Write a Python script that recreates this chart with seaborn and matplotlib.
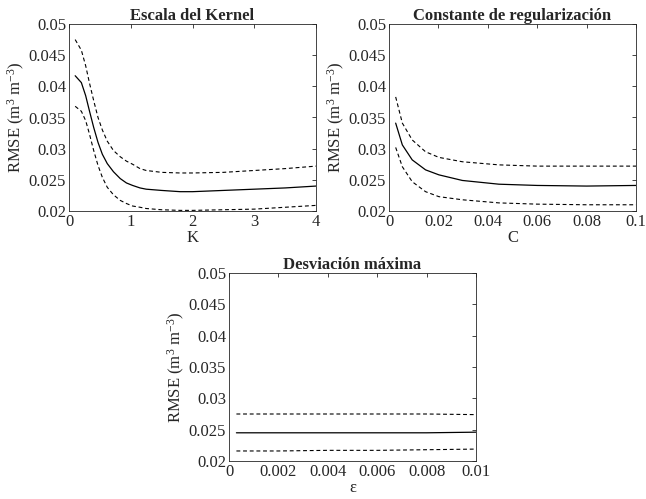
import numpy as np
import pandas as pd
import matplotlib
matplotlib.use("Agg")
import matplotlib.pyplot as plt
from matplotlib.ticker import FuncFormatter
import seaborn as sns

sns.set_style("white")
plt.rcParams["font.family"] = ["Liberation Serif", "DejaVu Serif"]
plt.rcParams["mathtext.fontset"] = "custom"
plt.rcParams["mathtext.rm"] = "Liberation Serif"
plt.rcParams["mathtext.it"] = "Liberation Serif:italic"

# Kernel scale K
k_vals = [0.1, 0.2, 0.27, 0.33, 0.4, 0.47, 0.54, 0.62, 0.72, 0.83, 0.93, 1.03, 1.15,
          1.25, 1.5, 1.8, 2.0, 2.5, 3.0, 3.5, 4.0]
k_mean = [0.0417, 0.0406, 0.0385, 0.0361, 0.0334, 0.0310, 0.0291, 0.0276, 0.0263, 0.0252,
          0.0245, 0.0241, 0.0237, 0.0235, 0.0233, 0.0231, 0.0231, 0.0233, 0.0235, 0.0237, 0.0240]
k_upper = [0.0475, 0.0458, 0.0433, 0.0406, 0.0377, 0.0350, 0.0330, 0.0312, 0.0297, 0.0287,
           0.0280, 0.0275, 0.0268, 0.0265, 0.0262, 0.0261, 0.0261, 0.0262, 0.0265, 0.0268, 0.0272]
k_lower = [0.0368, 0.0360, 0.0345, 0.0324, 0.0297, 0.0273, 0.0254, 0.0238, 0.0226, 0.0217,
           0.0212, 0.0208, 0.0206, 0.0204, 0.0202, 0.0201, 0.0201, 0.0202, 0.0203, 0.0206, 0.0209]

# Regularization constant C
c_vals = [0.0027, 0.0054, 0.0094, 0.0148, 0.0202, 0.0297, 0.0445, 0.06, 0.08, 0.1]
c_mean = [0.0341, 0.0306, 0.0282, 0.0266, 0.0258, 0.0249, 0.0243, 0.0241, 0.0240, 0.0241]
c_upper = [0.0383, 0.0341, 0.0314, 0.0295, 0.0286, 0.0279, 0.0274, 0.0272, 0.0272, 0.0272]
c_lower = [0.0302, 0.0271, 0.0247, 0.0231, 0.0223, 0.0218, 0.0213, 0.0211, 0.0210, 0.0210]

# Maximum deviation epsilon
e_vals = [0.0003, 0.002, 0.004, 0.006, 0.008, 0.01]
e_mean = [0.0245, 0.0245, 0.0245, 0.0245, 0.0245, 0.0246]
e_upper = [0.0275, 0.0275, 0.0275, 0.0275, 0.0275, 0.0274]
e_lower = [0.0216, 0.0216, 0.0217, 0.0217, 0.0218, 0.0219]

panels = [
    ("Escala del Kernel", "K", k_vals, k_mean, k_upper, k_lower, (0, 4), [0, 1, 2, 3, 4]),
    ("Constante de regularización", "C", c_vals, c_mean, c_upper, c_lower, (0, 0.1),
     [0, 0.02, 0.04, 0.06, 0.08, 0.1]),
    ("Desviación máxima", "ε", e_vals, e_mean, e_upper, e_lower, (0, 0.01),
     [0, 0.002, 0.004, 0.006, 0.008, 0.01]),
]

W, H = 646, 499
fig = plt.figure(figsize=(W / 100, H / 100), dpi=100)

# axes boxes in pixels: left, top, right, bottom
boxes = [(69, 24, 316, 211), (389, 24, 636, 211), (229, 273, 476, 461)]

fmt = FuncFormatter(lambda v, p: "%g" % round(v, 6))
ink = "#262626"
fs = 12

for (title, xlab, x, m, up, lo, xlim, xticks), (l, t, r, b) in zip(panels, boxes):
    ax = fig.add_axes([l / W, 1 - b / H, (r - l) / W, (b - t) / H])
    df = pd.DataFrame({"x": x * 3, "y": m + up + lo,
                       "serie": ["media"] * len(x) + ["sup"] * len(x) + ["inf"] * len(x)})
    sns.lineplot(data=df[df.serie == "media"], x="x", y="y", color="black", lw=0.9, ax=ax)
    for s in ("sup", "inf"):
        sns.lineplot(data=df[df.serie == s], x="x", y="y", color="black", lw=0.8,
                     linestyle=(0, (3.5, 2.5)), ax=ax)
    ax.set_xlim(*xlim)
    ax.set_ylim(0.02, 0.05)
    ax.set_xticks(xticks)
    ax.set_yticks([0.02, 0.025, 0.03, 0.035, 0.04, 0.045, 0.05])
    ax.xaxis.set_major_formatter(fmt)
    ax.yaxis.set_major_formatter(fmt)
    ax.tick_params(direction="in", length=3, width=0.6, top=True, right=True,
                   labelsize=fs, colors=ink, pad=2)
    for sp in ax.spines.values():
        sp.set_visible(True)
        sp.set_color(ink)
        sp.set_linewidth(0.6)
    ax.set_title(title, fontsize=fs, fontweight="bold", pad=3)
    ax.set_xlabel(xlab, fontsize=fs, labelpad=0, color=ink)
    ax.set_ylabel(r"RMSE (m$^3$ m$^{-3}$)", fontsize=fs, labelpad=1, color=ink)
    ax.grid(False)

fig.savefig("out.png", dpi=100, facecolor="white")
